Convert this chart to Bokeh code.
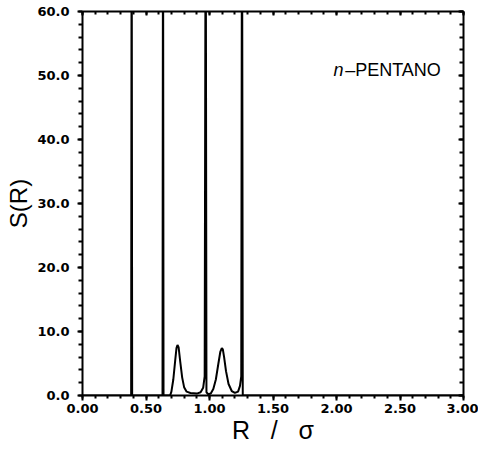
from bokeh.plotting import figure
from bokeh.models import (Label, LinearAxis, SingleIntervalTicker, PrintfTickFormatter,
                          Range1d, CustomJSTickFormatter)
from bokeh.embed import file_html
from bokeh.resources import INLINE

# ---- data ----
R = [0.000, 0.383, 0.387, 0.391, 0.630, 0.634, 0.638, 0.690, 0.700, 0.715,
     0.730, 0.740, 0.748, 0.757, 0.770, 0.785, 0.800, 0.820, 0.850, 0.900,
     0.930, 0.950, 0.962, 0.970, 0.976, 0.990, 1.010, 1.030, 1.050, 1.070,
     1.085, 1.097, 1.105, 1.115, 1.130, 1.150, 1.175, 1.200, 1.225, 1.240,
     1.250, 1.256, 1.262, 1.275, 3.000]
S = [0.0, 0.0, 85.0, 0.0, 0.0, 85.0, 0.0, 0.0, 0.6, 2.5,
     5.5, 7.4, 7.9, 7.5, 5.2, 2.8, 1.3, 0.6, 0.4, 0.3,
     0.5, 1.2, 3.0, 85.0, 0.5, 0.2, 0.3, 1.0, 2.5, 5.0,
     6.8, 7.4, 7.2, 6.0, 3.8, 1.8, 0.7, 0.4, 0.6, 1.5,
     3.0, 85.0, 0.0, 0.0, 0.0]

x_tick_step = 0.5
y_tick_step = 10
x_label = "R\u00a0\u00a0\u00a0/\u00a0\u00a0\u00a0σ"
y_label = "S(R)"
note = "–PENTANO"
note_prefix = "n"

p = figure(width=478, height=450, output_backend="svg", toolbar_location=None,
           x_range=Range1d(0, 3), y_range=Range1d(0, 60),
           min_border_left=82, min_border_right=15, min_border_top=11,
           min_border_bottom=55)
p.grid.visible = False
p.outline_line_color = None
p.background_fill_color = "white"

p.line(R, S, line_color="black", line_width=2)

xt = SingleIntervalTicker(interval=x_tick_step, num_minor_ticks=5)
yt = SingleIntervalTicker(interval=y_tick_step, num_minor_ticks=5)

xa = p.xaxis[0]
xa.ticker = xt
xa.formatter = PrintfTickFormatter(format="%.2f")
xa.axis_line_width = 2
xa.major_tick_in = 0
xa.major_tick_out = 5
xa.minor_tick_in = 0
xa.minor_tick_out = 3
xa.major_tick_line_width = 2
xa.minor_tick_line_width = 2
xa.major_label_standoff = 3
xa.major_label_text_font = "DejaVu Sans"
xa.major_label_text_font_style = "bold"
xa.major_label_text_font_size = "13px"
xa.major_label_text_color = "black"
xa.axis_label = x_label
xa.axis_label_standoff = 0
xa.axis_label_text_font = "Liberation Sans"
xa.axis_label_text_font_style = "normal"
xa.axis_label_text_font_size = "25px"
xa.axis_label_text_color = "black"

ya = p.yaxis[0]
ya.ticker = yt
ya.formatter = PrintfTickFormatter(format="%.1f")
ya.axis_line_width = 2
ya.major_tick_in = 0
ya.major_tick_out = 5
ya.minor_tick_in = 0
ya.minor_tick_out = 4
ya.major_tick_line_width = 2
ya.minor_tick_line_width = 2
ya.major_label_standoff = 8
ya.major_label_text_font = "DejaVu Sans"
ya.major_label_text_font_style = "bold"
ya.major_label_text_font_size = "13px"
ya.major_label_text_color = "black"
ya.axis_label = y_label
ya.axis_label_standoff = 2
ya.axis_label_text_font = "Liberation Sans"
ya.axis_label_text_font_style = "normal"
ya.axis_label_text_font_size = "24px"
ya.axis_label_text_color = "black"

top = LinearAxis(ticker=SingleIntervalTicker(interval=x_tick_step, num_minor_ticks=5),
                 formatter=CustomJSTickFormatter(code="return ''"), major_label_standoff=0,
                 major_tick_in=4, major_tick_out=0, minor_tick_in=3, minor_tick_out=0,
                 axis_line_width=2, major_tick_line_width=2, minor_tick_line_width=2)
p.add_layout(top, "above")
right = LinearAxis(ticker=SingleIntervalTicker(interval=y_tick_step, num_minor_ticks=5),
                   formatter=CustomJSTickFormatter(code="return ''"), major_label_standoff=0,
                   major_tick_in=5, major_tick_out=0, minor_tick_in=4, minor_tick_out=0,
                   axis_line_width=2, major_tick_line_width=2, minor_tick_line_width=2)
p.add_layout(right, "right")

p.add_layout(Label(x=2.055, y=50.8, text=note_prefix, text_align="right",
                   text_baseline="middle", text_font="Liberation Sans",
                   text_font_style="italic", text_font_size="18px",
                   text_color="black"))
p.add_layout(Label(x=2.068, y=50.8, text=note, text_align="left",
                   text_baseline="middle", text_font="Liberation Sans",
                   text_font_size="18px", text_color="black"))

open("out.html", "w").write(file_html(p, INLINE))
